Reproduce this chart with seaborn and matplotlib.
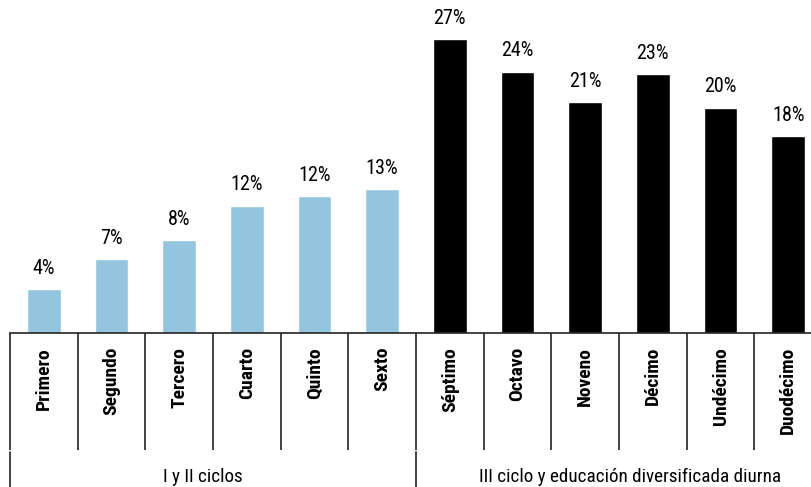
import numpy as np
import pandas as pd
import matplotlib
matplotlib.use("Agg")
import matplotlib.pyplot as plt
import matplotlib.transforms as mtransforms
from matplotlib import font_manager
import seaborn as sns

# Dados
grados = ["Primero", "Segundo", "Tercero", "Cuarto", "Quinto", "Sexto",
          "Séptimo", "Octavo", "Noveno", "Décimo", "Undécimo", "Duodécimo"]
valores = [4.0, 6.8, 8.5, 11.7, 12.6, 13.2, 27.0, 24.0, 21.2, 23.8, 20.7, 18.1]
etiquetas = ["4%", "7%", "8%", "12%", "12%", "13%",
             "27%", "24%", "21%", "23%", "20%", "18%"]
grupos = ["I y II ciclos", "III ciclo y educación diversificada diurna"]
grupo_de = ["I y II ciclos"] * 6 + ["III ciclo y educación diversificada diurna"] * 6

sns.set_style("white")

nomes = {f.name for f in font_manager.fontManager.ttflist}
candidatas = ["Roboto Condensed", "Liberation Sans Narrow", "Roboto"]
fonte = next(c for c in candidatas if c in nomes)
plt.rcParams["font.family"] = [fonte, "DejaVu Sans"]
plt.rcParams["text.color"] = "black"
plt.rcParams["xtick.color"] = "black"

df = pd.DataFrame({"grado": grados, "valor": valores, "grupo": grupo_de})

cores = {"I y II ciclos": "#93C6DE",
         "III ciclo y educación diversificada diurna": "#000000"}

fig = plt.figure(figsize=(8.11, 4.87), dpi=100)
ax = fig.add_axes([10 / 811, 154 / 487, 812 / 811, 305 / 487])

sns.barplot(data=df, x="grado", y="valor", hue="grupo", palette=cores,
            width=0.5, dodge=False, legend=False, ax=ax, saturation=1)

ax.set_xlim(-0.5, 11.5)
ax.set_ylim(0, 28)
ax.set_xlabel("")
ax.set_ylabel("")
ax.set_yticks([])

for s in ["top", "right", "left"]:
    ax.spines[s].set_visible(False)
ax.spines["bottom"].set_color("#222222")
ax.spines["bottom"].set_linewidth(1.2)

# rótulos de valor
for i, (v, t) in enumerate(zip(valores, etiquetas)):
    ax.annotate(t, (i, v), xytext=(0, 8), textcoords="offset points",
                ha="center", va="bottom", fontsize=14.5, color="black")

# ticks
ax.set_xticks(range(len(grados)))
ax.set_xticklabels(grados, rotation=90, fontsize=14, fontweight="bold",
                   color="black")
ax.tick_params(axis="x", which="major", bottom=True, length=0, pad=10)
ax.set_xticks(np.arange(-0.5, len(grados), 1), minor=True)
ax.tick_params(axis="x", which="minor", bottom=True, length=84, width=1.2,
               color="#222222", direction="out")

# linhas e rótulos de grupo
trans = mtransforms.blended_transform_factory(ax.transData, fig.transFigure)
for xg in [-0.5, 5.5, 11.5]:
    ax.plot([xg, xg], [0, 35 / 487], transform=trans, color="#222222",
            lw=1.2, clip_on=False)
ax.text(2.35, 10 / 487, grupos[0], transform=trans, ha="center",
        va="center", fontsize=13.8, color="black")
ax.text(8.66, 10 / 487, grupos[1], transform=trans, ha="center",
        va="center", fontsize=13.8, color="black")

plt.savefig("out.png", dpi=100)
